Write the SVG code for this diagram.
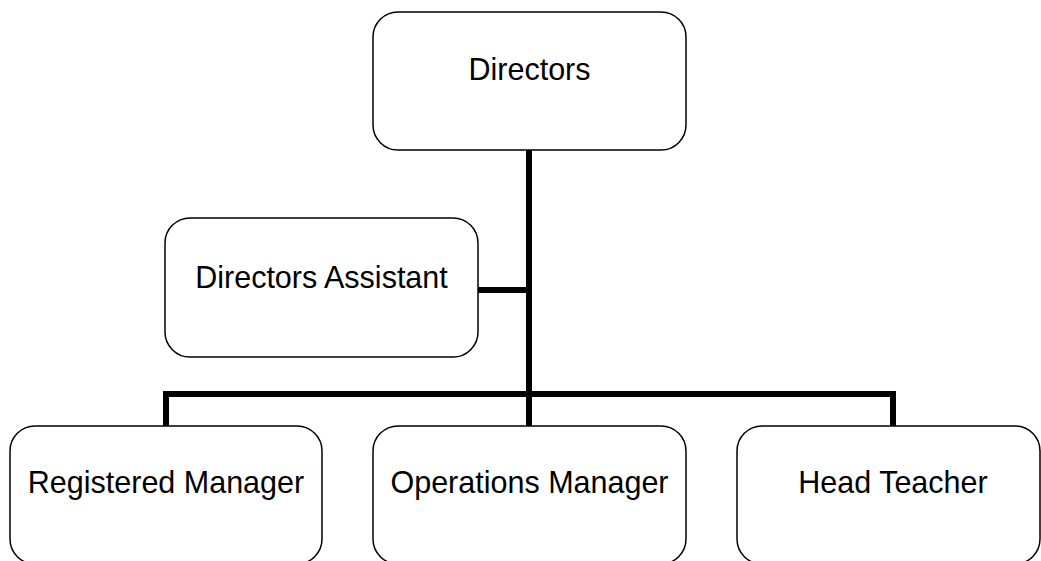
<svg xmlns="http://www.w3.org/2000/svg" width="1041" height="561" viewBox="0 0 1041 561">
<style>
.box{fill:#fff;stroke:#000;stroke-width:1.5}
.lbl{font-family:"Liberation Sans",Arial,sans-serif;font-size:30.5px;fill:#000;text-anchor:middle}
.con{fill:none;stroke:#000;stroke-width:6}
</style>
<rect width="1041" height="561" fill="#fff"/>
<g id="connectors">
<line class="con" x1="529" y1="150" x2="529" y2="426"/>
<line class="con" x1="478" y1="290" x2="529" y2="290"/>
<polyline class="con" points="166,426 166,394 893,394 893,426"/>
</g>
<g id="directors">
<rect class="box" x="373" y="12" width="313" height="138" rx="25"/>
<text class="lbl" x="529.5" y="80">Directors</text>
</g>
<g id="assistant">
<rect class="box" x="165" y="218" width="313" height="139" rx="25"/>
<text class="lbl" x="321.5" y="288">Directors Assistant</text>
</g>
<g id="registered">
<rect class="box" x="10" y="426" width="312" height="138" rx="25"/>
<text class="lbl" x="166" y="493">Registered Manager</text>
</g>
<g id="operations">
<rect class="box" x="373" y="426" width="313" height="138" rx="25"/>
<text class="lbl" x="529.5" y="493">Operations Manager</text>
</g>
<g id="headteacher">
<rect class="box" x="737" y="426" width="303" height="138" rx="25"/>
<text class="lbl" x="893" y="493">Head Teacher</text>
</g>
</svg>
